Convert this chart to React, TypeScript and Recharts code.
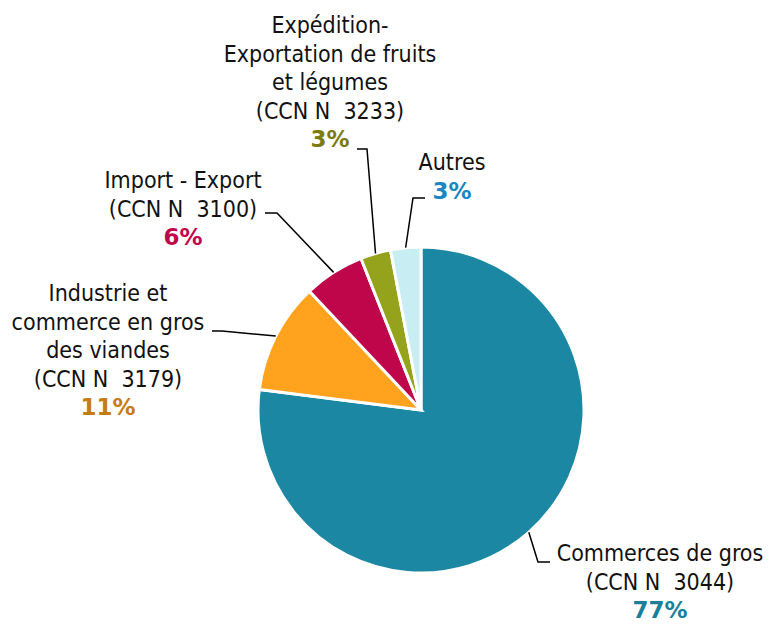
import React from 'react';
import { PieChart, Pie, Cell } from 'recharts';

const sectors = ['Commerces de gros', 'Industrie et commerce en gros des viandes', 'Import - Export', 'Expédition-Exportation de fruits et légumes', 'Autres'];
const shares = [77, 11, 6, 3, 3];
const labelLines = [
  ['Commerces de gros', '(CCN N  3044)'],
  ['Industrie et', 'commerce en gros', 'des viandes', '(CCN N  3179)'],
  ['Import - Export', '(CCN N  3100)'],
  ['Expédition-', 'Exportation de fruits', 'et légumes', '(CCN N  3233)'],
  ['Autres'],
];
const sliceColors = ['#1c87a2', '#ffa31f', '#c0064a', '#95a31c', '#c8edf2'];
const pctColors = ['#1c7f99', '#c57c12', '#c0064a', '#7a7c10', '#1a86c4'];

// label placement relative to pie centre: text centre, first line, elbow, line end
const layout = [
  { tx: 239, ty: 143, ex: 117, ey: 152, lx: 129, ly: 152 },
  { tx: -313, ty: -117, ex: -199, ey: -79, lx: -209, ly: -79 },
  { tx: -238, ty: -230, ex: -144, ey: -197, lx: -156, ly: -197 },
  { tx: -91, ty: -385, ex: -54, ey: -261, lx: -64, ly: -261 },
  { tx: 31, ty: -248, ex: -8, ey: -212, lx: 4, ly: -212 },
];

const data = sectors.map((name, i) => ({ name, value: shares[i] }));
const RAD = Math.PI / 180;
const LINE_H = 28.5;

const renderLabel = (props: any) => {
  const { cx, cy, midAngle, outerRadius, index } = props;
  const l = layout[index];
  const sx = cx + outerRadius * Math.cos(-midAngle * RAD);
  const sy = cy + outerRadius * Math.sin(-midAngle * RAD);
  const lines = labelLines[index];
  return (
    <g>
      <polyline
        points={`${sx},${sy} ${cx + l.ex},${cy + l.ey} ${cx + l.lx},${cy + l.ly}`}
        fill="none"
        stroke="#000"
        strokeWidth={1.5}
      />
      {lines.map((t, j) => (
        <text
          key={j}
          x={cx + l.tx}
          y={cy + l.ty + j * LINE_H}
          textAnchor="middle"
          dominantBaseline="central"
          fill="#111"
          fontSize={23}
          style={{ whiteSpace: 'pre', fontFamily: '"DejaVu Sans Condensed", "DejaVu Sans", sans-serif' }}
        >
          {t}
        </text>
      ))}
      <text
        x={cx + l.tx}
        y={cy + l.ty + lines.length * LINE_H}
        textAnchor="middle"
        dominantBaseline="central"
        fill={pctColors[index]}
        fontSize={23}
        fontWeight="bold"
        style={{ fontFamily: '"DejaVu Sans", sans-serif' }}
      >
        {shares[index]}%
      </text>
    </g>
  );
};

export default function App() {
  return (
    <div style={{ position: 'absolute', left: 0, top: 0, background: '#fff' }}>
      <PieChart width={772} height={624} margin={{ top: 0, right: 0, bottom: 0, left: 0 }}>
        <Pie
          data={data}
          dataKey="value"
          nameKey="name"
          cx={421}
          cy={410}
          outerRadius={163}
          startAngle={90}
          endAngle={-270}
          stroke="#fff"
          strokeWidth={3}
          label={renderLabel}
          labelLine={false}
          isAnimationActive={false}
        >
          {data.map((d, i) => (
            <Cell key={d.name} fill={sliceColors[i]} />
          ))}
        </Pie>
      </PieChart>
    </div>
  );
}
